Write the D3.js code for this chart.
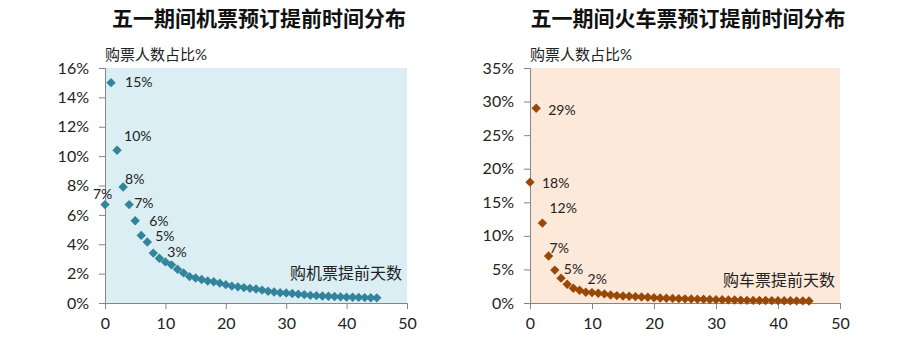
<!DOCTYPE html>
<html><head><meta charset="utf-8">
<script src="https://cdn.jsdelivr.net/npm/d3@7"></script>
<style>
body{margin:0;background:#fff;}
svg{display:block;}
text{font-family:Lato,"Noto Sans CJK SC",sans-serif;}
</style></head><body>
<svg id="c" width="919" height="339"></svg>
<script>
// ---- data ----
const days = d3.range(0, 46);
const planeShare = [6.7,15.0,10.4,7.9,6.7,5.6,4.6,4.15,3.4,3.05,2.8,2.6,2.3,2.05,1.8,1.7,1.6,1.5,1.45,1.35,1.25,1.15,1.1,1.05,1.0,0.95,0.88,0.8,0.75,0.7,0.68,0.65,0.6,0.57,0.52,0.5,0.48,0.46,0.44,0.42,0.4,0.39,0.38,0.37,0.36,0.35];
const trainShare = [18.0,29.0,11.9,7.0,4.9,3.7,2.8,2.2,1.9,1.6,1.55,1.45,1.35,1.2,1.1,1.05,1.0,0.95,0.9,0.85,0.8,0.75,0.7,0.68,0.65,0.62,0.6,0.57,0.55,0.52,0.5,0.48,0.46,0.44,0.42,0.4,0.39,0.38,0.37,0.36,0.35,0.34,0.33,0.32,0.31,0.3];
const planeLabelDays = [0,1,2,3,4,5,6,8];
const planeLabelTexts = ["7%","15%","10%","8%","7%","6%","5%","3%"];
const trainLabelDays = [0,1,2,3,4,8];
const trainLabelTexts = ["18%","29%","12%","7%","5%","2%"];
const planeYTicks = [0,2,4,6,8,10,12,14,16];
const trainYTicks = [0,5,10,15,20,25,30,35];
const xTicks = [0,10,20,30,40,50];
const titles = ["五一期间机票预订提前时间分布","五一期间火车票预订提前时间分布"];
const yTitle = "购票人数占比%";
const xTitles = ["购机票提前天数","购车票提前天数"];

const svg = d3.select("#c");

function chart(cfg){
  const g = svg.append("g");
  const x = d3.scaleLinear().domain([0,50]).range([cfg.x0, cfg.x1]);
  const y = d3.scaleLinear().domain([0,cfg.ymax]).range([303, 68]);
  g.append("rect").attr("x",x(0)).attr("y",y(cfg.ymax)).attr("width",x(50)-x(0)).attr("height",y(0)-y(cfg.ymax)).attr("fill",cfg.bg);
  const xa = g.append("g").attr("transform",`translate(0,${y(0)})`)
    .call(d3.axisBottom(x).tickValues(xTicks).tickSize(6).tickPadding(9));
  const ya = g.append("g").attr("transform",`translate(${x(0)},0)`)
    .call(d3.axisLeft(y).tickValues(cfg.yticks).tickSize(6).tickPadding(10).tickFormat(d=>d+"%"));
  [xa,ya].forEach(a=>{
    a.select(".domain").attr("stroke","#868686");
    a.selectAll(".tick line").attr("stroke","#868686");
    a.selectAll(".tick text").attr("font-size",16).attr("fill","#222");
  });
  const sym = d3.symbol().type(d3.symbolDiamond2).size(56);
  g.selectAll("path.pt").data(days).join("path").attr("class","pt")
    .attr("d",sym).attr("transform",d=>`translate(${x(d)},${y(cfg.values[d])})`).attr("fill",cfg.color);
  cfg.labelDays.forEach((d,i)=>{
    const o = cfg.offsets[i];
    g.append("text").attr("x",x(d)+o[0]).attr("y",y(cfg.values[d])+o[1])
      .attr("font-size",14).attr("fill","#222").attr("dominant-baseline","middle")
      .text(cfg.labelTexts[i]);
  });
  g.append("text").attr("x",(cfg.x0+cfg.x1)/2+3).attr("y",21).attr("text-anchor","middle")
    .attr("dominant-baseline","middle").attr("font-size",21).attr("font-weight","bold")
    .attr("font-family","'Noto Sans CJK SC'").attr("fill","#111").text(cfg.title);
  g.append("text").attr("x",cfg.x0).attr("y",56).attr("dominant-baseline","middle")
    .attr("font-size",15).attr("font-family","'Noto Sans CJK SC'").attr("fill","#222").text(yTitle);
  g.append("text").attr("x",cfg.x1-5).attr("y",cfg.xtY).attr("text-anchor","end").attr("dominant-baseline","middle")
    .attr("font-size",16).attr("font-family","'Noto Sans CJK SC'").attr("fill","#222").text(cfg.xTitle);
}

chart({x0:105,x1:407,ymax:16,yticks:planeYTicks,values:planeShare,color:"#31849B",bg:"#DAEEF3",
  labelDays:planeLabelDays,labelTexts:planeLabelTexts,
  offsets:[[-12,-9],[14,1],[7,-13],[2,-7],[5,0],[14,2],[14,2],[14,0]],
  title:titles[0],xTitle:xTitles[0],xtY:275});
chart({x0:530,x1:840,ymax:35,yticks:trainYTicks,values:trainShare,color:"#984807",bg:"#FDE9D9",
  labelDays:trainLabelDays,labelTexts:trainLabelTexts,
  offsets:[[12,2],[12,3],[7,-14],[1,-7],[9,0],[8,-10]],
  title:titles[1],xTitle:xTitles[1],xtY:282});
</script>
</body></html>
